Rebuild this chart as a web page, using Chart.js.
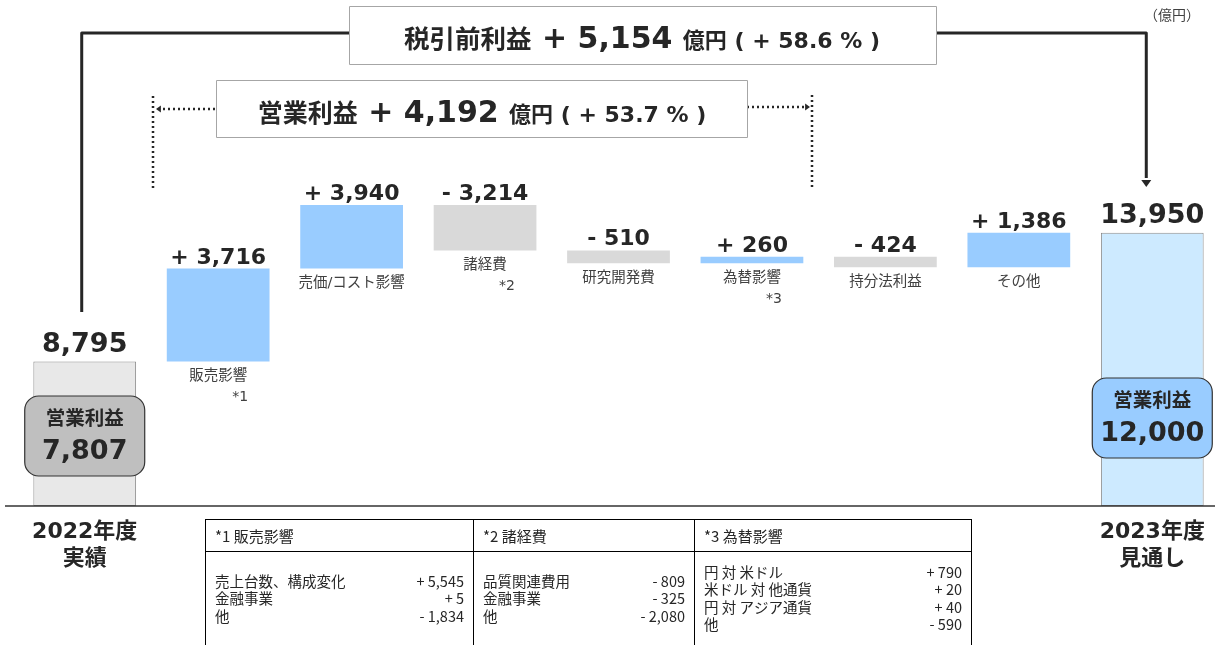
<!DOCTYPE html>
<html>
<head>
<meta charset="utf-8">
<script src="https://cdn.jsdelivr.net/npm/chart.js@4.4.1/dist/chart.umd.min.js"></script>
<style>
  html, body { margin: 0; padding: 0; background: #fff; }
  #wrap { width: 1221px; height: 645px; position: relative; }
</style>
</head>
<body>
<div id="wrap"><canvas id="bridge" width="1221" height="645"></canvas></div>
<script>
// 営業利益 増減要因 (億円)
var categories = ['2022年度', '販売影響', '売価/コスト影響', '諸経費', '研究開発費', '為替影響', '持分法利益', 'その他', '2023年度'];
var subLabels  = ['実績', '', '', '', '', '', '', '', '見通し'];
var noteMarks  = ['', '*1', '', '*2', '', '*3', '', '', ''];
var startValue = 8795;
var endValue   = 13950;
var deltas     = [3716, 3940, -3214, -510, 260, -424, 1386];
var opProfit   = [7807, 12000];
var axisMin    = 3015;   // bottom of the (cut) axis
var axisBreak  = 15055;  // bars above this level are drawn cut off

var notesTitle = ['*1 販売影響', '*2 諸経費', '*3 為替影響'];
var notesItems = [
  ['売上台数、構成変化', '金融事業', '他'],
  ['品質関連費用', '金融事業', '他'],
  ['円 対 米ドル', '米ドル 対 他通貨', '円 対 アジア通貨', '他']
];
var notesValues = [
  ['+ 5,545', '+ 5', '- 1,834'],
  ['- 809', '- 325', '- 2,080'],
  ['+ 790', '+ 20', '+ 40', '- 590']
];

var JP = '"Noto Sans CJK JP"';
var NUM = '"DejaVu Sans"';
var dark = '#262626';

function fmt(v) {
  return (v < 0 ? '- ' : '+ ') + Math.abs(v).toLocaleString('en-US');
}
function cut(v) { return Math.min(v, axisBreak); }

// floating bars
var ranges = [[axisMin, startValue]];
var colors = ['#e8e8e8'];
var run = startValue;
deltas.forEach(function(d) {
  ranges.push([cut(run), cut(run + d)]);
  colors.push(d >= 0 ? '#99ccff' : '#d9d9d9');
  run += d;
});
ranges.push([axisMin, endValue]);
colors.push('#cdeaff');

var valueLabels = [startValue.toLocaleString('en-US')]
  .concat(deltas.map(fmt))
  .concat([endValue.toLocaleString('en-US')]);

function drawSegs(ctx, segs, cx, base) {
  var total = 0;
  segs.forEach(function(s) { ctx.font = s.f; s.w = ctx.measureText(s.t).width; total += s.w; });
  var x = cx - total / 2;
  ctx.textAlign = 'left';
  ctx.textBaseline = 'alphabetic';
  segs.forEach(function(s) { ctx.font = s.f; ctx.fillText(s.t, x, base); x += s.w; });
}

function arrowHead(ctx, x, y, dir, size) {
  ctx.beginPath();
  if (dir === 'down') { ctx.moveTo(x, y); ctx.lineTo(x - size, y - size * 1.4); ctx.lineTo(x + size, y - size * 1.4); }
  if (dir === 'left') { ctx.moveTo(x, y); ctx.lineTo(x + size * 1.4, y - size); ctx.lineTo(x + size * 1.4, y + size); }
  if (dir === 'right') { ctx.moveTo(x, y); ctx.lineTo(x - size * 1.4, y - size); ctx.lineTo(x - size * 1.4, y + size); }
  ctx.closePath();
  ctx.fill();
}

var annotations = {
  id: 'annotations',
  afterDatasetsDraw: function(chart) {
    var ctx = chart.ctx;
    var bars = chart.getDatasetMeta(0).data;
    var area = chart.chartArea;
    ctx.save();

    // baseline
    ctx.strokeStyle = '#333';
    ctx.lineWidth = 1.5;
    ctx.beginPath(); ctx.moveTo(5, area.bottom); ctx.lineTo(1215, area.bottom); ctx.stroke();

    bars.forEach(function(b, i) {
      var top = Math.min(b.y, b.base), bottom = Math.max(b.y, b.base);
      ctx.fillStyle = dark;
      ctx.textAlign = 'center';
      ctx.textBaseline = 'alphabetic';
      if (i === 0 || i === bars.length - 1) {
        ctx.font = 'bold 27px ' + NUM;
        ctx.fillText(valueLabels[i], b.x, top - 10);
        ctx.font = 'bold 22px ' + NUM + ', ' + JP;
        ctx.fillText(categories[i], b.x, area.bottom + 32);
        ctx.fillText(subLabels[i], b.x, area.bottom + 59);
      } else {
        ctx.font = 'bold 22px ' + NUM;
        ctx.fillText(valueLabels[i], b.x, top - 5);
        ctx.fillStyle = '#404040';
        ctx.font = '14.5px ' + NUM + ', ' + JP;
        ctx.textBaseline = 'middle';
        ctx.fillText(categories[i], b.x, bottom + 15);
        if (noteMarks[i]) {
          ctx.font = '14px ' + NUM;
          ctx.fillText(noteMarks[i], b.x + 22, bottom + 36);
        }
      }
    });

    // 営業利益 badges
    var first = bars[0], last = bars[bars.length - 1];
    [[first, 396, '#bfbfbf', opProfit[0]], [last, 378, '#99ccff', opProfit[1]]].forEach(function(p) {
      var x = p[0].x - 60, y = p[1];
      ctx.beginPath();
      ctx.roundRect(x, y, 120, 80, 14);
      ctx.fillStyle = p[2];
      ctx.fill();
      ctx.strokeStyle = '#333';
      ctx.lineWidth = 1.2;
      ctx.stroke();
      ctx.fillStyle = dark;
      ctx.textAlign = 'center';
      ctx.textBaseline = 'alphabetic';
      ctx.font = 'bold 19.5px ' + JP;
      ctx.fillText('営業利益', p[0].x, y + 29);
      ctx.font = 'bold 27px ' + NUM;
      ctx.fillText(p[3].toLocaleString('en-US'), p[0].x, y + 63);
    });

    // solid connector 2022 -> 2023 (税引前利益)
    ctx.strokeStyle = dark;
    ctx.fillStyle = dark;
    ctx.lineWidth = 3;
    ctx.lineJoin = 'round';
    ctx.beginPath();
    ctx.moveTo(first.x - 3, 312); ctx.lineTo(first.x - 3, 33); ctx.lineTo(349, 33);
    ctx.moveTo(936, 33); ctx.lineTo(last.x - 6, 33); ctx.lineTo(last.x - 6, 178);
    ctx.stroke();
    arrowHead(ctx, last.x - 6, 187, 'down', 5);

    // dotted bracket (営業利益)
    ctx.lineWidth = 2.5;
    ctx.setLineDash([2, 3]);
    ctx.beginPath();
    ctx.moveTo(153, 96); ctx.lineTo(153, 190);
    ctx.moveTo(163, 109); ctx.lineTo(216, 109);
    ctx.moveTo(747, 107); ctx.lineTo(804, 107);
    ctx.moveTo(812, 95); ctx.lineTo(812, 187);
    ctx.stroke();
    ctx.setLineDash([]);
    arrowHead(ctx, 156, 109, 'left', 3.5);
    arrowHead(ctx, 810, 107, 'right', 3.5);

    // title boxes
    ctx.lineWidth = 1;
    ctx.strokeStyle = '#a6a6a6';
    ctx.fillStyle = '#fff';
    ctx.fillRect(349, 6, 587, 58); ctx.strokeRect(349.5, 6.5, 587, 58);
    ctx.fillRect(216, 80, 531, 57); ctx.strokeRect(216.5, 80.5, 531, 57);
    ctx.fillStyle = dark;
    drawSegs(ctx, [
      { t: '税引前利益', f: 'bold 25.5px ' + JP },
      { t: ' + 5,154 ', f: 'bold 30px ' + NUM },
      { t: '億円', f: 'bold 22px ' + JP },
      { t: ' ( + 58.6 % )', f: 'bold 22px ' + NUM }
    ], 642, 48);
    drawSegs(ctx, [
      { t: '営業利益', f: 'bold 25px ' + JP },
      { t: ' + 4,192 ', f: 'bold 30px ' + NUM },
      { t: '億円', f: 'bold 22px ' + JP },
      { t: ' ( + 53.7 % )', f: 'bold 22px ' + NUM }
    ], 482, 122);

    // unit
    ctx.fillStyle = '#404040';
    ctx.font = '14px ' + JP;
    ctx.textAlign = 'center';
    ctx.textBaseline = 'middle';
    ctx.fillText('（億円）', 1172, 15);

    // notes table
    var cols = [205, 473, 694, 971];
    ctx.strokeStyle = '#000';
    ctx.lineWidth = 1;
    ctx.beginPath();
    ctx.moveTo(205, 519.5); ctx.lineTo(971, 519.5);
    ctx.moveTo(205, 551.5); ctx.lineTo(971, 551.5);
    cols.forEach(function(c) { ctx.moveTo(c + 0.5, 519); ctx.lineTo(c + 0.5, 645); });
    ctx.stroke();
    ctx.fillStyle = dark;
    ctx.textBaseline = 'middle';
    notesTitle.forEach(function(t, k) {
      ctx.font = '15px ' + JP;
      ctx.textAlign = 'left';
      ctx.fillText(t, cols[k] + 10, 536);
      ctx.font = '14.5px ' + JP;
      var y0 = notesItems[k].length > 3 ? 572 : 581;
      notesItems[k].forEach(function(item, r) {
        ctx.textAlign = 'left';
        ctx.fillText(item, cols[k] + 10, y0 + r * 17.5);
        ctx.textAlign = 'right';
        ctx.fillText(notesValues[k][r], cols[k + 1] - 9, y0 + r * 17.5);
      });
    });
    ctx.restore();
  }
};

new Chart(document.getElementById('bridge'), {
  type: 'bar',
  data: {
    labels: categories,
    datasets: [{
      data: ranges,
      backgroundColor: colors,
      borderColor: '#8c8c8c',
      borderWidth: colors.map(function(c, i) { return (i === 0 || i === colors.length - 1) ? 1 : 0; }),
      borderSkipped: false,
      barPercentage: 0.77,
      categoryPercentage: 1.0
    }]
  },
  options: {
    responsive: false,
    animation: false,
    layout: { padding: { left: 18, right: 2, top: 0, bottom: 139 } },
    plugins: { legend: { display: false }, tooltip: { enabled: false } },
    scales: {
      x: { display: false },
      y: { display: false, min: axisMin, max: axisMin + 506 * 40 }
    }
  },
  plugins: [annotations]
});
</script>
</body>
</html>
